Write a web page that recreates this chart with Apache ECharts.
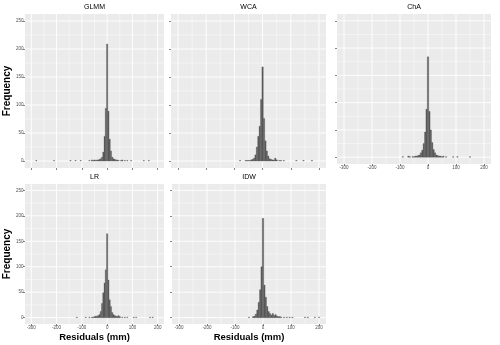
<!DOCTYPE html>
<html>
<head>
<meta charset="utf-8">
<script src="https://cdn.jsdelivr.net/npm/echarts@6/dist/echarts.min.js"></script>
<style>
  html, body { margin: 0; padding: 0; background: #fff; }
  #main { width: 500px; height: 345px; }
</style>
</head>
<body>
<div id="main"></div>
<script>
// histogram counts, bins of 5 mm centred on multiples of 5
var binWidth = 5;

var glmmStart = -40;
var glmmCore = [2, 2, 3, 4, 7, 16, 44, 94, 209, 89, 39, 18, 7, 4, 3, 2, 2, 1];
var glmmTail = [[-280, 1], [-210, 1], [-145, 1], [-125, 1], [-105, 1], [-70, 1], [-60, 2], [-55, 1], [-50, 2], [-45, 1],
  [55, 1], [60, 2], [70, 1], [80, 1], [95, 1], [145, 1], [165, 1]];

var wcaStart = -40;
var wcaCore = [2, 3, 5, 11, 25, 44, 62, 110, 168, 76, 36, 18, 9, 4, 3, 2, 2, 5, 2];
var wcaTail = [[-80, 1], [-60, 1], [-55, 1], [-50, 1], [-45, 1], [60, 1], [65, 1], [75, 1], [120, 1], [145, 1], [175, 1]];

var chaStart = -45;
var chaCore = [2, 2, 3, 4, 8, 13, 25, 46, 88, 184, 84, 50, 27, 14, 8, 4, 3, 2, 2];
var chaTail = [[-90, 1], [-70, 2], [-65, 1], [-55, 1], [-50, 1], [50, 1], [55, 2], [65, 1], [90, 1], [105, 1], [150, 1]];

var lrStart = -50;
var lrCore = [2, 3, 3, 4, 6, 12, 28, 49, 68, 94, 165, 74, 35, 22, 10, 6, 4, 3, 2, 4, 2];
var lrTail = [[-120, 1], [-85, 1], [-70, 1], [-60, 1], [-55, 1], [60, 1], [70, 1], [80, 1], [105, 1], [115, 1], [170, 1], [180, 1]];

var idwStart = -35;
var idwCore = [2, 3, 7, 15, 30, 55, 100, 195, 64, 40, 22, 12, 8, 5, 8, 4, 6, 3, 2, 2, 1];
var idwTail = [[-50, 1], [75, 1], [85, 1], [95, 1], [105, 1], [150, 1], [160, 1], [185, 1], [200, 1]];

// axes
var xBreaks = [-300, -200, -100, 0, 100, 200];
var xMinor = [-250, -150, -50, 50, 150];
var yBreaks = [0, 50, 100, 150, 200, 250];
var yMinor = [25, 75, 125, 175, 225];
var xLim = [-325, 225];
var yLim = [-12.5, 262.5];

function bins(start, core, tail) {
  var out = [];
  for (var i = 0; i < core.length; i++) out.push([start + i * binWidth, core[i]]);
  return out.concat(tail);
}

// gridline items: [0 = vertical / 1 = horizontal, value, major?]
var gridData = [];
xBreaks.forEach(function (v) { gridData.push([0, v, 1]); });
xMinor.forEach(function (v) { gridData.push([0, v, 0]); });
yBreaks.forEach(function (v) { gridData.push([1, v, 1]); });
yMinor.forEach(function (v) { gridData.push([1, v, 0]); });

var panels = [
  { name: 'GLMM', data: bins(glmmStart, glmmCore, glmmTail), box: [25, 14, 139, 154], xLab: false, yLab: true, xName: '' },
  { name: 'WCA', data: bins(wcaStart, wcaCore, wcaTail), box: [171, 14, 155, 154], xLab: false, yLab: false, xName: '' },
  { name: 'ChA', data: bins(chaStart, chaCore, chaTail), box: [337, 14, 154, 150], xLab: true, yLab: false, xName: '' },
  { name: 'LR', data: bins(lrStart, lrCore, lrTail), box: [25, 184, 139, 140], xLab: true, yLab: true, xName: 'Residuals (mm)' },
  { name: 'IDW', data: bins(idwStart, idwCore, idwTail), box: [172, 184, 154, 140], xLab: true, yLab: false, xName: 'Residuals (mm)' }
];

var FONT = 'Liberation Sans, Arial, sans-serif';
var tickStyle = { color: '#333333', width: 0.6 };
var labelStyle = { fontSize: 4.5, color: '#4D4D4D', fontFamily: FONT };

function renderBar(params, api) {
  var c = api.value(0);
  var n = api.value(1);
  var p0 = api.coord([c - binWidth / 2, n]);
  var p1 = api.coord([c + binWidth / 2, 0]);
  return {
    type: 'rect',
    shape: { x: p0[0], y: p0[1], width: p1[0] - p0[0], height: p1[1] - p0[1] },
    style: { fill: '#595959', stroke: '#595959', lineWidth: 0.3 }
  };
}

function renderGrid(params, api) {
  var dir = api.value(0);
  var v = api.value(1);
  var a, b;
  if (dir === 0) {
    a = api.coord([v, yLim[0]]);
    b = api.coord([v, yLim[1]]);
  } else {
    a = api.coord([xLim[0], v]);
    b = api.coord([xLim[1], v]);
  }
  return {
    type: 'line',
    shape: { x1: a[0], y1: a[1], x2: b[0], y2: b[1] },
    style: { stroke: '#fff', lineWidth: api.value(2) ? 0.9 : 0.45 }
  };
}

var option = { animation: false, title: [], grid: [], xAxis: [], yAxis: [], series: [] };

panels.forEach(function (p, i) {
  var b = p.box;
  option.grid.push({
    left: b[0], top: b[1], width: b[2], height: b[3],
    show: true, backgroundColor: '#EBEBEB', borderWidth: 0
  });
  option.title.push({
    text: p.name, left: b[0] + b[2] / 2, top: b[1] - 10, textAlign: 'center', padding: 0,
    textStyle: { fontSize: 7, fontWeight: 'normal', color: '#000', fontFamily: FONT }
  });
  option.xAxis.push({
    gridIndex: i, type: 'value', min: xLim[0], max: xLim[1], position: 'bottom',
    name: p.xName, nameLocation: 'middle', nameGap: 8,
    nameTextStyle: { fontSize: 9.5, fontWeight: 'bold', color: '#000', fontFamily: FONT },
    axisLine: { show: false, onZero: false },
    splitLine: { show: false },
    axisTick: { show: true, length: 2, lineStyle: tickStyle, customValues: xBreaks },
    axisLabel: Object.assign({ show: p.xLab, margin: 1.5, customValues: xBreaks }, labelStyle)
  });
  option.yAxis.push({
    gridIndex: i, type: 'value', min: yLim[0], max: yLim[1], position: 'left',
    name: p.yLab ? 'Frequency' : '', nameLocation: 'middle', nameGap: 11,
    nameTextStyle: { fontSize: 10, fontWeight: 'bold', color: '#000', fontFamily: FONT },
    axisLine: { show: false, onZero: false },
    splitLine: { show: false },
    axisTick: { show: true, length: 2, lineStyle: tickStyle, customValues: yBreaks },
    axisLabel: Object.assign({ show: p.yLab, margin: 1.5, customValues: yBreaks }, labelStyle)
  });
  option.series.push({
    type: 'custom', xAxisIndex: i, yAxisIndex: i, z: 1, silent: true,
    renderItem: renderGrid, data: gridData
  });
  option.series.push({
    type: 'custom', name: p.name, xAxisIndex: i, yAxisIndex: i, z: 2,
    renderItem: renderBar, data: p.data
  });
});

var mycharts = echarts.init(document.getElementById('main'));
mycharts.setOption(option);
</script>
</body>
</html>
